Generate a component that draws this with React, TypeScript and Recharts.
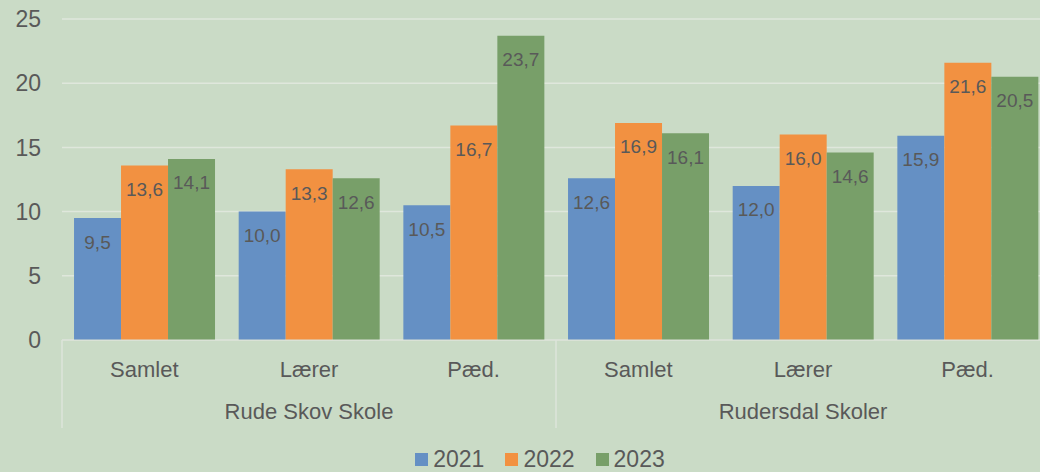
import React from 'react'
import { BarChart, Bar, XAxis, YAxis, CartesianGrid, Legend, LabelList } from 'recharts'

const categories = ['Samlet', 'Lærer', 'Pæd.', 'Samlet', 'Lærer', 'Pæd.']
const groups = ['Rude Skov Skole', 'Rude Skov Skole', 'Rude Skov Skole', 'Rudersdal Skoler', 'Rudersdal Skoler', 'Rudersdal Skoler']
const values2021 = [9.5, 10.0, 10.5, 12.6, 12.0, 15.9]
const values2022 = [13.6, 13.3, 16.7, 16.9, 16.0, 21.6]
const values2023 = [14.1, 12.6, 23.7, 16.1, 14.6, 20.5]
const yTicks = [0, 5, 10, 15, 20, 25]

const series = [
  { key: 'y2021', name: '2021', color: '#6590c4' },
  { key: 'y2022', name: '2022', color: '#f29141' },
  { key: 'y2023', name: '2023', color: '#789f69' },
]

const data = categories.map((cat, i) => ({
  cat,
  grp: groups[i],
  y2021: values2021[i],
  y2022: values2022[i],
  y2023: values2023[i],
}))

// the original plot runs a little past the right edge of the picture
const W = 1040
const CHART_W = 1050
const H = 472
const LEFT = 62
const BAND = (CHART_W - LEFT) / categories.length
const TEXT = '#595959'
const FONT = '"Liberation Sans", Arial, sans-serif'

const fmt = (v: any) => Number(v).toFixed(1).replace('.', ',')

// second axis row: group names centred under each group plus separator lines
const GroupTick = (props: any) => {
  const { x, y, index } = props
  const label = index === 1 || index === 4
  const sep = index === 0 || index === 3
  return (
    <g>
      {sep && <line x1={x - BAND / 2} x2={x - BAND / 2} y1={y - 43} y2={y + 45} stroke="#dde4da" strokeWidth={1.5} />}
      {label && (
        <text x={x} y={y + 20} dy="0.71em" textAnchor="middle" fill={TEXT} fontSize={22} fontFamily={FONT}>
          {groups[index]}
        </text>
      )}
    </g>
  )
}

const LegendContent = () => (
  <div style={{ height: 44, paddingTop: 18, paddingLeft: 30, boxSizing: 'border-box', display: 'flex', justifyContent: 'center', fontFamily: FONT, fontSize: 23, lineHeight: '24px', color: TEXT }}>
    {series.map((s, i) => (
      <span key={s.key} style={{ display: 'flex', alignItems: 'center', marginLeft: i ? 21 : 0 }}>
        <span style={{ width: 13, height: 13, background: s.color, display: 'inline-block', marginRight: 5 }} />
        {s.name}
      </span>
    ))}
  </div>
)

export default function App() {
  return (
    <div style={{ position: 'absolute', left: 0, top: 0, width: W, height: H, overflow: 'hidden', background: '#cadbc6' }}>
      <BarChart width={CHART_W} height={H} data={data} margin={{ top: 19, right: 0, left: 0, bottom: 0 }} barCategoryGap="7.3%" barGap={0}>
        <CartesianGrid vertical={false} stroke="#dfe7dc" strokeWidth={1.5} />
        <YAxis
          width={LEFT}
          domain={[0, 25]}
          ticks={yTicks}
          axisLine={false}
          tickLine={false}
          tickSize={0}
          tickMargin={21}
          tick={{ fill: TEXT, fontSize: 23, fontFamily: FONT }}
        />
        <XAxis
          dataKey="cat"
          height={43}
          interval={0}
          stroke="#d9dfd6"
          tickLine={false}
          tickSize={0}
          tickMargin={21}
          tick={{ fill: TEXT, fontSize: 22, fontFamily: FONT }}
        />
        <XAxis
          xAxisId="grp"
          dataKey="grp"
          height={45}
          interval={0}
          axisLine={false}
          tickLine={false}
          tickSize={0}
          tickMargin={0}
          tick={<GroupTick />}
        />
        <Legend verticalAlign="bottom" height={44} content={<LegendContent />} />
        {series.map((s) => (
          <Bar key={s.key} dataKey={s.key} name={s.name} fill={s.color} isAnimationActive={false}>
            <LabelList dataKey={s.key} position="insideTop" offset={17} formatter={fmt} fill={TEXT} fontSize={19} fontFamily={FONT} />
          </Bar>
        ))}
      </BarChart>
    </div>
  )
}
